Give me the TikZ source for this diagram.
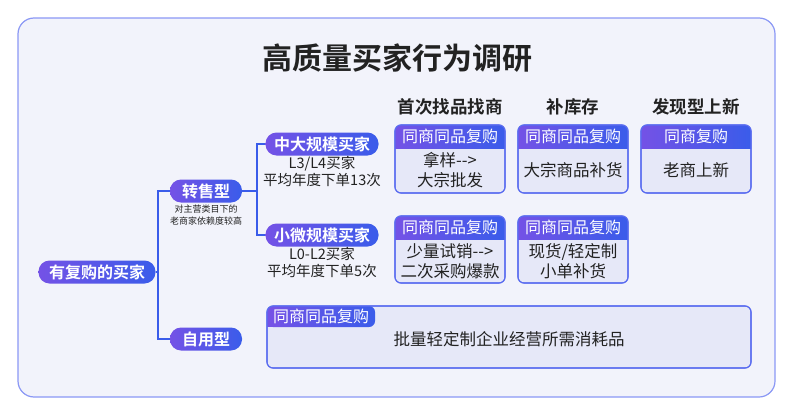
\documentclass[tikz,border=0pt]{standalone}
\usepackage{fontspec}
\setmainfont{Noto Sans CJK SC}
\newfontfamily\cjkb{Noto Sans CJK SC Bold}
\definecolor{bgc}{HTML}{F2F3FB}
\definecolor{bdc}{HTML}{5A6CF0}
\definecolor{pa}{HTML}{7452E6}
\definecolor{pb}{HTML}{3A5CEA}
\definecolor{boxc}{HTML}{E6E8F8}
\definecolor{txt}{HTML}{222222}
\definecolor{lnc}{HTML}{3A5CEA}
\tikzset{
 pill/.style={rounded corners=11pt,left color=pa,right color=pb,text=white,font=\cjkb\fontsize{16}{16}\selectfont,minimum height=23pt,inner sep=0pt},
 lbl/.style={text=txt,font=\fontsize{14.5}{17}\selectfont,align=center},
 hdr/.style={text=txt,font=\cjkb\fontsize{17.5}{17.5}\selectfont},
 card/.style={draw=bdc,line width=1.1pt,fill=boxc,rounded corners=6pt},
 conn/.style={draw=lnc,line width=1.2pt},
 tabt/.style={text=white,font=\fontsize{16}{16}\selectfont},
 cardt/.style={text=txt,font=\fontsize{16.5}{20}\selectfont,align=center}
}
\begin{document}
\begin{tikzpicture}[x=1pt,y=-1pt]
\useasboundingbox (0,0) rectangle (793,415);
\fill[white] (0,0) rectangle (793,415);
\draw[bdc!70,line width=1.2pt,fill=bgc,rounded corners=16pt] (18,18) rectangle (775,397);
\node[text=txt,font=\cjkb\fontsize{30}{30}\selectfont] (title) at (397,58) {高质量买家行为调研};
\node[hdr] (h1) at (450,107) {首次找品找商};
\node[hdr] (h2) at (573,107) {补库存};
\node[hdr] (h3) at (696,107) {发现型上新};
\newcommand{\mycard}[7]{%
 \draw[card] (#1,#2) rectangle (#3,#4);
 \begin{scope}
 \clip[rounded corners=6pt] (#1,#2) rectangle (#3,#4);
 \shade[left color=pa,right color=pb] (#1,#2) rectangle (#3,#2+23);
 \end{scope}
 \draw[bdc,line width=1.1pt,rounded corners=6pt] (#1,#2) rectangle (#3,#4);
 \node[tabt] (#6t) at ({(#1+#3)/2},#2+11.5) {#7};
 \node[cardt] (#6) at ({(#1+#3)/2},{(#2+23+#4)/2}) {#5};
}
\mycard{395}{125}{505}{193}{拿样-{}->\\大宗批发}{c1}{同商同品复购}
\mycard{518}{125}{628}{193}{大宗商品补货}{c2}{同商同品复购}
\mycard{641}{125}{751}{193}{老商上新}{c3}{同商复购}
\mycard{395}{216}{505}{283}{少量试销-{}->\\二次采购爆款}{c4}{同商同品复购}
\mycard{518}{216}{628}{283}{现货/轻定制\\小单补货}{c5}{同商同品复购}
% big box
\draw[card] (267,306) rectangle (751,368);
\begin{scope}\clip[rounded corners=6pt] (267,306) rectangle (751,368);
\shade[left color=pa,right color=pb,rounded corners=6pt] (267,306) rectangle (375,327);
\fill[pa] (267,306) rectangle (280,327);
\end{scope}
\draw[bdc,line width=1.1pt,rounded corners=6pt] (267,306) rectangle (751,368);
\node[tabt] (bt) at (321,316.5) {同商同品复购};
\node[cardt] (bb) at (509,339) {批量轻定制企业经营所需消耗品};
% tree
\node[pill,minimum width=117pt] (root) at (97,272) {有复购的买家};
\node[pill,minimum width=72pt] (rs) at (206,191) {转售型};
\node[pill,minimum width=72pt] (zy) at (206,339) {自用型};
\node[text=txt,font=\fontsize{9}{11.5}\selectfont,align=center] (rsn) at (206,215) {对主营类目下的\\老商家依赖度较高};
\node[pill,minimum width=113pt] (big) at (322,144) {中大规模买家};
\node[pill,minimum width=113pt] (small) at (322,235) {小微规模买家};
\node[lbl] (bign) at (322,171) {L3/L4买家\\平均年度下单13次};
\node[lbl] (smalln) at (322,262) {L0-L2买家\\平均年度下单5次};
\draw[conn] (root.east) -- (158,272) |- (rs.west);
\draw[conn] (158,272) |- (zy.west);
\draw[conn] (rs.east) -- (257,191) |- (big.west);
\draw[conn] (257,191) |- (small.west);
\end{tikzpicture}
\end{document}
